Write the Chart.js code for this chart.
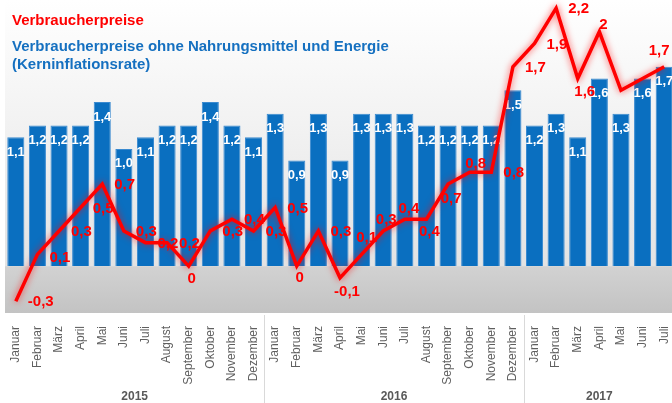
<!DOCTYPE html>
<html>
<head>
<meta charset="utf-8">
<script src="https://cdn.jsdelivr.net/npm/chart.js@4"></script>
<style>
  html, body { margin: 0; padding: 0; background: #fff; overflow: hidden; }
  #wrap { width: 672px; height: 403px; overflow: hidden; }
</style>
</head>
<body>
<div id="wrap"><canvas id="inflChart" width="675" height="403"></canvas></div>
<script>
// Daten: Jan 2015 - Jul 2017
const months = ['Januar', 'Februar', 'März', 'April', 'Mai', 'Juni', 'Juli', 'August', 'September', 'Oktober', 'November', 'Dezember',
                'Januar', 'Februar', 'März', 'April', 'Mai', 'Juni', 'Juli', 'August', 'September', 'Oktober', 'November', 'Dezember',
                'Januar', 'Februar', 'März', 'April', 'Mai', 'Juni', 'Juli'];
const years = ['2015', '2016', '2017'];
const yearStart = [0, 12, 24];
const verbraucherpreise = [-0.3, 0.1, 0.3, 0.5, 0.7, 0.3, 0.2, 0.2, 0, 0.3, 0.4, 0.3,
                           0.5, 0, 0.3, -0.1, 0.1, 0.3, 0.4, 0.4, 0.7, 0.8, 0.8, 1.7,
                           1.9, 2.2, 1.6, 2, 1.5, 1.6, 1.7];
const kerninflation = [1.1, 1.2, 1.2, 1.2, 1.4, 1.0, 1.1, 1.2, 1.2, 1.4, 1.2, 1.1,
                       1.3, 0.9, 1.3, 0.9, 1.3, 1.3, 1.3, 1.2, 1.2, 1.2, 1.2, 1.5,
                       1.2, 1.3, 1.1, 1.6, 1.3, 1.6, 1.7];

// Beschriftung der Linie: [dx, dy, Ausrichtung] oder null
const R = [12, 1, 'left'];
const lineLabelPos = [R, [12, 3, 'left'], R, R, R, R, R, R, [3, 13, 'center'], R, R, R,
                      R, [3, 12, 'center'], R, [7, 14, 'center'], [5, -17, 'center'], [3, -11, 'center'], [4, -10, 'center'], [3, 13, 'center'], [3, 15, 'center'], [6, -8, 'center'], R, R,
                      R, R, [7, 13, 'center'], [4, -7, 'center'], null, null, [-5, -16, 'center']];

const FONT = '"Liberation Sans", Arial, sans-serif';
const fmt = v => String(v).replace('.', ',');

const hintergrund = {
    id: 'hintergrund',
    beforeDraw(chart) {
        const { ctx, chartArea: a, scales: { y } } = chart;
        const y0 = y.getPixelForValue(0);
        ctx.save();
        let g = ctx.createLinearGradient(0, a.top, 0, y0);
        g.addColorStop(0, '#ffffff');
        g.addColorStop(1, '#e3e3e3');
        ctx.fillStyle = g;
        ctx.fillRect(a.left, a.top, a.right - a.left, y0 - a.top);
        g = ctx.createLinearGradient(0, y0, 0, a.bottom);
        g.addColorStop(0, '#d2d2d2');
        g.addColorStop(1, '#c3c3c3');
        ctx.fillStyle = g;
        ctx.fillRect(a.left, y0, a.right - a.left, a.bottom - y0);
        ctx.restore();
    },
    beforeDatasetDraw(chart, args) {
        if (args.index === 0) {
            chart.ctx.save();
            chart.ctx.shadowColor = 'rgba(255,0,0,0.7)';
            chart.ctx.shadowBlur = 7;
        }
    },
    afterDatasetDraw(chart, args) {
        const ctx = chart.ctx;
        if (args.index === 0) { ctx.restore(); return; }
        // Werte in den Balken
        ctx.save();
        ctx.fillStyle = '#ffffff';
        ctx.font = 'bold 13px ' + FONT;
        ctx.textAlign = 'center';
        ctx.textBaseline = 'middle';
        args.meta.data.forEach((bar, i) => {
            ctx.fillText(kerninflation[i].toFixed(1).replace('.', ','), bar.x, bar.y + 15);
        });
        ctx.restore();
    },
    afterDatasetsDraw(chart) {
        const { ctx } = chart;
        const meta = chart.getDatasetMeta(0);
        ctx.save();
        ctx.fillStyle = '#ff0000';
        ctx.font = 'bold 15px ' + FONT;
        ctx.textBaseline = 'middle';
        meta.data.forEach((pt, i) => {
            const p = lineLabelPos[i];
            if (!p) return;
            ctx.textAlign = p[2];
            ctx.fillText(fmt(verbraucherpreise[i]), pt.x + p[0], pt.y + p[1]);
        });
        ctx.restore();
    },
    afterDraw(chart) {
        const { ctx, chartArea: a, scales: { x } } = chart;
        ctx.save();
        // Titel
        ctx.textBaseline = 'middle';
        ctx.textAlign = 'left';
        ctx.font = 'bold 15px ' + FONT;
        ctx.fillStyle = '#ff0000';
        ctx.fillText(chart.data.datasets[0].label, 12, 21);
        ctx.fillStyle = '#1570c0';
        ctx.fillText('Verbraucherpreise ohne Nahrungsmittel und Energie', 12, 47);
        ctx.fillText('(Kerninflationsrate)', 12, 65);
        // Jahre
        ctx.strokeStyle = '#d9d9d9';
        ctx.lineWidth = 1;
        yearStart.forEach((s, k) => {
            if (s > 0) {
                const xs = Math.round((x.getPixelForValue(s - 1) + x.getPixelForValue(s)) / 2) + 0.5;
                ctx.beginPath();
                ctx.moveTo(xs, a.bottom + 2);
                ctx.lineTo(xs, chart.height);
                ctx.stroke();
            }
            const e = (k + 1 < yearStart.length ? yearStart[k + 1] : months.length) - 1;
            const xc = (x.getPixelForValue(s) + x.getPixelForValue(e)) / 2;
            ctx.fillStyle = '#595959';
            ctx.font = 'bold 12px ' + FONT;
            ctx.textAlign = 'center';
            ctx.fillText(years[k], xc, 397);
        });
        ctx.restore();
    }
};

const ctx = document.getElementById('inflChart').getContext('2d');
new Chart(ctx, {
    data: {
        labels: months,
        datasets: [
            {
                type: 'line',
                label: 'Verbraucherpreise',
                data: verbraucherpreise,
                borderColor: '#ff0000',
                borderWidth: 3.5,
                pointRadius: 0,
                tension: 0,
                order: 0
            },
            {
                type: 'bar',
                label: 'Verbraucherpreise ohne Nahrungsmittel und Energie (Kerninflationsrate)',
                data: kerninflation,
                backgroundColor: '#0a6fc0',
                borderColor: '#3a8ad0',
                borderWidth: { top: 1, left: 1, right: 1, bottom: 0 },
                categoryPercentage: 1,
                barPercentage: 0.79,
                order: 1
            }
        ]
    },
    options: {
        responsive: false,
        animation: false,
        layout: { padding: { left: 5, right: 0, top: 0, bottom: 0 } },
        plugins: { legend: { display: false }, tooltip: { enabled: false } },
        scales: {
            x: {
                grid: { display: false },
                border: { display: false },
                ticks: {
                    minRotation: 90,
                    maxRotation: 90,
                    autoSkip: false,
                    padding: 5,
                    color: '#5f5f5f',
                    font: { family: FONT, size: 12 }
                },
                afterFit(scale) {
                    scale.height = 90;
                    scale.paddingLeft = 0;
                    scale.paddingRight = 0;
                }
            },
            y: {
                display: false,
                min: -0.4,
                max: 2.27
            }
        }
    },
    plugins: [hintergrund]
});
</script>
</body>
</html>
